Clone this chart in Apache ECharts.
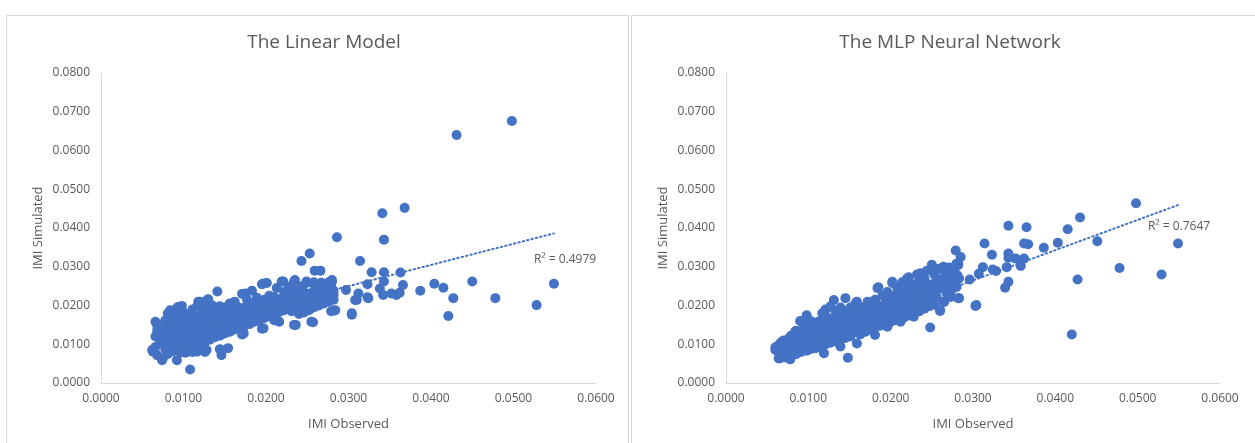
<!DOCTYPE html>
<html>
<head>
<meta charset="utf-8">
<title>IMI Observed vs Simulated</title>
<script type="text/javascript" src="https://cdn.jsdelivr.net/npm/echarts/dist/echarts.min.js"></script>
<style>
  html, body { margin: 0; padding: 0; background: #fff; }
  #chart { width: 1255px; height: 443px; }
</style>
</head>
<body>
<div id="chart"></div>
<script type="text/javascript">
// titles / axis names
var chartTitles = ['The Linear Model', 'The MLP Neural Network'];
var xName = 'IMI Observed';
var yName = 'IMI Simulated';
var r2Labels = ['R\u00b2 = 0.4979', 'R\u00b2 = 0.7647'];

// trendlines (intercept, slope)
var linearTrend = [0.00861, 0.5464];
var mlpTrend = [0.00304, 0.781];

// [observed, simulated] - linear model
var linearPoints = [
  // outliers / sparse part
  [0.0498,0.0676],[0.0431,0.0640],[0.0368,0.0452],[0.0341,0.0438],[0.0343,0.0370],[0.0286,0.0376],
  [0.0253,0.0334],[0.0243,0.0315],[0.0314,0.0315],[0.0259,0.0290],[0.0266,0.0290],[0.0328,0.0286],
  [0.0343,0.0286],[0.0363,0.0285],[0.0549,0.0256],[0.0450,0.0262],[0.0404,0.0256],[0.0415,0.0246],
  [0.0387,0.0238],[0.0427,0.0219],[0.0478,0.0219],[0.0528,0.0201],[0.0421,0.0173],
  [0.0280,0.0266],[0.0278,0.0257],[0.0249,0.0262],[0.0267,0.0259],[0.0282,0.0227],[0.0297,0.0240],
  [0.0312,0.0231],[0.0308,0.0214],[0.0323,0.0255],[0.0324,0.0219],[0.0338,0.0244],[0.0343,0.0262],
  [0.0342,0.0227],[0.0352,0.0231],[0.0358,0.0227],[0.0362,0.0233],[0.0366,0.0253],[0.0283,0.0187],
  [0.0304,0.0176],[0.0257,0.0157],[0.0310,0.0214],[0.0323,0.0221],
  // cluster edge
  [0.0063,0.0081],[0.0074,0.0059],[0.0092,0.0059],[0.0108,0.0035],[0.0066,0.0158],[0.0070,0.0137],
  [0.0066,0.0120],[0.0084,0.0188],[0.0098,0.0199],[0.0118,0.0210],[0.0130,0.0216],[0.0141,0.0236],
  [0.0146,0.0085],[0.0154,0.0090],[0.0146,0.0072],[0.0128,0.0085],[0.0116,0.0081],[0.0106,0.0081],
  [0.0173,0.0128],[0.0197,0.0141],[0.0175,0.0231],[0.0197,0.0257],[0.0221,0.0262],[0.0235,0.0266],
  [0.0257,0.0257],[0.0280,0.0262],[0.0236,0.0150],[0.0213,0.0163],[0.0284,0.0188],[0.0304,0.0180],
  // cluster body
  [0.0062,0.0085],[0.0066,0.0093],[0.0068,0.0072],[0.0068,0.0135],[0.0068,0.0150],
  [0.0072,0.0110],[0.0072,0.0128],[0.0072,0.0141],[0.0075,0.0064],[0.0075,0.0100],[0.0075,0.0122],
  [0.0075,0.0148],[0.0078,0.0088],[0.0078,0.0115],[0.0078,0.0135],[0.0078,0.0162],
  [0.0081,0.0075],[0.0081,0.0106],[0.0081,0.0128],[0.0081,0.0152],[0.0081,0.0180],
  [0.0084,0.0094],[0.0084,0.0118],[0.0084,0.0140],[0.0087,0.0082],[0.0087,0.0110],[0.0087,0.0131],
  [0.0087,0.0160],[0.0087,0.0175],[0.0090,0.0098],[0.0090,0.0122],[0.0090,0.0146],[0.0090,0.0168],
  [0.0093,0.0088],[0.0093,0.0115],[0.0093,0.0137],[0.0093,0.0155],[0.0093,0.0196],
  [0.0096,0.0079],[0.0096,0.0104],[0.0096,0.0128],[0.0096,0.0150],[0.0096,0.0180],
  [0.0099,0.0095],[0.0099,0.0118],[0.0099,0.0140],[0.0099,0.0162],[0.0099,0.0185],
  [0.0102,0.0078],[0.0102,0.0108],[0.0102,0.0132],[0.0102,0.0155],[0.0102,0.0172],
  [0.0105,0.0085],[0.0105,0.0120],[0.0105,0.0145],[0.0105,0.0165],
  [0.0108,0.0100],[0.0108,0.0127],[0.0108,0.0150],[0.0108,0.0178],
  [0.0111,0.0080],[0.0111,0.0112],[0.0111,0.0138],[0.0111,0.0160],[0.0111,0.0190],
  [0.0114,0.0095],[0.0114,0.0122],[0.0114,0.0148],[0.0114,0.0170],
  [0.0117,0.0082],[0.0117,0.0108],[0.0117,0.0133],[0.0117,0.0158],[0.0117,0.0200],
  [0.0120,0.0098],[0.0120,0.0125],[0.0120,0.0145],[0.0120,0.0175],[0.0120,0.0210],
  [0.0123,0.0088],[0.0123,0.0115],[0.0123,0.0138],[0.0123,0.0162],[0.0123,0.0185],
  [0.0126,0.0080],[0.0126,0.0105],[0.0126,0.0130],[0.0126,0.0152],[0.0126,0.0195],
  [0.0129,0.0120],[0.0129,0.0144],[0.0129,0.0168],[0.0129,0.0215],
  [0.0132,0.0112],[0.0132,0.0136],[0.0132,0.0158],[0.0132,0.0182],
  [0.0135,0.0125],[0.0135,0.0148],[0.0135,0.0172],[0.0135,0.0200],
  [0.0138,0.0118],[0.0138,0.0140],[0.0138,0.0162],[0.0138,0.0190],
  [0.0141,0.0130],[0.0141,0.0152],[0.0141,0.0178],
  [0.0144,0.0087],[0.0144,0.0122],[0.0144,0.0145],[0.0144,0.0168],[0.0144,0.0198],
  [0.0147,0.0136],[0.0147,0.0158],[0.0147,0.0185],
  [0.0150,0.0128],[0.0150,0.0150],[0.0150,0.0172],[0.0150,0.0195],
  [0.0153,0.0140],[0.0153,0.0162],[0.0153,0.0188],
  [0.0156,0.0132],[0.0156,0.0155],[0.0156,0.0178],[0.0156,0.0205],
  [0.0159,0.0145],[0.0159,0.0168],[0.0159,0.0192],
  [0.0162,0.0138],[0.0162,0.0160],[0.0162,0.0182],[0.0162,0.0210],
  [0.0165,0.0150],[0.0165,0.0172],[0.0165,0.0198],
  [0.0168,0.0142],[0.0168,0.0165],[0.0168,0.0188],
  [0.0171,0.0125],[0.0171,0.0155],[0.0171,0.0178],[0.0171,0.0230],
  [0.0174,0.0148],[0.0174,0.0170],[0.0174,0.0195],
  [0.0177,0.0160],[0.0177,0.0183],[0.0177,0.0215],
  [0.0180,0.0152],[0.0180,0.0175],[0.0180,0.0200],
  [0.0183,0.0165],[0.0183,0.0188],[0.0183,0.0238],
  [0.0186,0.0158],[0.0186,0.0180],[0.0186,0.0205],
  [0.0189,0.0170],[0.0189,0.0192],[0.0189,0.0220],
  [0.0192,0.0162],[0.0192,0.0185],[0.0192,0.0210],
  [0.0195,0.0140],[0.0195,0.0176],[0.0195,0.0198],[0.0195,0.0255],
  [0.0198,0.0168],[0.0198,0.0190],[0.0198,0.0215],
  [0.0201,0.0180],[0.0201,0.0202],[0.0201,0.0258],
  [0.0204,0.0172],[0.0204,0.0195],[0.0204,0.0225],
  [0.0207,0.0185],[0.0207,0.0208],
  [0.0210,0.0162],[0.0210,0.0178],[0.0210,0.0200],[0.0210,0.0222],
  [0.0213,0.0190],[0.0213,0.0212],[0.0213,0.0245],
  [0.0216,0.0158],[0.0216,0.0183],[0.0216,0.0205],
  [0.0219,0.0195],[0.0219,0.0218],[0.0219,0.0262],
  [0.0222,0.0188],[0.0222,0.0210],[0.0222,0.0235],
  [0.0225,0.0200],[0.0225,0.0222],
  [0.0228,0.0192],[0.0228,0.0215],[0.0228,0.0248],
  [0.0231,0.0185],[0.0231,0.0205],[0.0231,0.0228],
  [0.0234,0.0150],[0.0234,0.0198],[0.0234,0.0220],[0.0234,0.0262],
  [0.0237,0.0190],[0.0237,0.0212],[0.0237,0.0238],
  [0.0240,0.0178],[0.0240,0.0205],[0.0240,0.0228],
  [0.0243,0.0195],[0.0243,0.0218],[0.0243,0.0250],
  [0.0246,0.0182],[0.0246,0.0210],[0.0246,0.0235],
  [0.0249,0.0200],[0.0249,0.0225],[0.0249,0.0258],
  [0.0252,0.0188],[0.0252,0.0215],
  [0.0255,0.0158],[0.0255,0.0205],[0.0255,0.0232],
  [0.0258,0.0195],[0.0258,0.0222],[0.0258,0.0260],
  [0.0261,0.0210],[0.0261,0.0238],[0.0264,0.0200],[0.0264,0.0228],
  [0.0267,0.0218],[0.0267,0.0245],[0.0270,0.0205],[0.0270,0.0232],
  [0.0273,0.0222],[0.0273,0.0252],[0.0276,0.0210],[0.0276,0.0260],
  [0.0279,0.0185],[0.0279,0.0225],[0.0279,0.0248],[0.0282,0.0215],[0.0282,0.0238]
];

// [observed, simulated] - MLP neural network
var mlpPoints = [
  // outliers / sparse part
  [0.0498,0.0464],[0.0430,0.0427],[0.0415,0.0397],[0.0343,0.0406],[0.0365,0.0402],[0.0451,0.0366],
  [0.0549,0.0360],[0.0403,0.0362],[0.0386,0.0349],[0.0362,0.0360],[0.0367,0.0358],[0.0314,0.0360],
  [0.0279,0.0342],[0.0285,0.0325],[0.0323,0.0331],[0.0343,0.0334],[0.0343,0.0323],[0.0352,0.0321],
  [0.0362,0.0321],[0.0358,0.0302],[0.0341,0.0299],[0.0282,0.0304],[0.0312,0.0299],[0.0324,0.0293],
  [0.0328,0.0289],[0.0307,0.0282],[0.0296,0.0267],[0.0281,0.0278],[0.0343,0.0261],[0.0339,0.0246],
  [0.0427,0.0267],[0.0478,0.0297],[0.0529,0.0280],[0.0420,0.0125],[0.0303,0.0199],[0.0283,0.0219],
  [0.0273,0.0222],[0.0265,0.0209],[0.0260,0.0186],[0.0248,0.0143],[0.0148,0.0065],
  // cluster edge
  [0.0060,0.0092],[0.0066,0.0064],[0.0078,0.0061],[0.0070,0.0107],[0.0084,0.0132],[0.0090,0.0160],
  [0.0098,0.0175],[0.0117,0.0180],[0.0131,0.0214],[0.0145,0.0219],[0.0159,0.0210],[0.0185,0.0247],
  [0.0202,0.0261],[0.0222,0.0273],[0.0236,0.0283],[0.0250,0.0305],[0.0264,0.0300],[0.0282,0.0309],
  [0.0119,0.0077],[0.0098,0.0083],[0.0139,0.0094],[0.0159,0.0102],[0.0181,0.0124],[0.0196,0.0145],
  [0.0212,0.0158],[0.0228,0.0171],[0.0260,0.0188],[0.0264,0.0210],[0.0282,0.0219],[0.0304,0.0201],
  // cluster body
  [0.0060,0.0085],[0.0064,0.0063],[0.0064,0.0078],[0.0064,0.0098],[0.0067,0.0070],[0.0067,0.0088],
  [0.0067,0.0105],[0.0070,0.0082],[0.0070,0.0095],[0.0070,0.0110],[0.0073,0.0066],[0.0073,0.0090],
  [0.0073,0.0102],[0.0076,0.0078],[0.0076,0.0096],[0.0076,0.0115],[0.0079,0.0070],[0.0079,0.0088],
  [0.0079,0.0106],[0.0079,0.0122],[0.0082,0.0082],[0.0082,0.0098],[0.0082,0.0112],
  [0.0085,0.0074],[0.0085,0.0092],[0.0085,0.0108],[0.0085,0.0135],
  [0.0088,0.0086],[0.0088,0.0102],[0.0088,0.0118],[0.0091,0.0080],[0.0091,0.0096],[0.0091,0.0112],
  [0.0091,0.0128],[0.0094,0.0090],[0.0094,0.0106],[0.0094,0.0122],[0.0094,0.0150],
  [0.0097,0.0100],[0.0097,0.0116],[0.0097,0.0135],[0.0100,0.0094],[0.0100,0.0110],[0.0100,0.0126],
  [0.0100,0.0145],[0.0103,0.0088],[0.0103,0.0104],[0.0103,0.0120],[0.0103,0.0138],[0.0103,0.0160],
  [0.0106,0.0098],[0.0106,0.0114],[0.0106,0.0130],[0.0106,0.0150],
  [0.0109,0.0090],[0.0109,0.0108],[0.0109,0.0124],[0.0109,0.0142],
  [0.0112,0.0102],[0.0112,0.0118],[0.0112,0.0135],[0.0112,0.0158],
  [0.0115,0.0095],[0.0115,0.0112],[0.0115,0.0128],[0.0115,0.0146],
  [0.0118,0.0106],[0.0118,0.0122],[0.0118,0.0140],[0.0118,0.0175],
  [0.0121,0.0100],[0.0121,0.0116],[0.0121,0.0133],[0.0121,0.0152],[0.0121,0.0190],
  [0.0124,0.0110],[0.0124,0.0126],[0.0124,0.0145],[0.0124,0.0168],
  [0.0127,0.0104],[0.0127,0.0120],[0.0127,0.0138],[0.0127,0.0160],[0.0127,0.0198],
  [0.0130,0.0114],[0.0130,0.0130],[0.0130,0.0150],
  [0.0133,0.0108],[0.0133,0.0125],[0.0133,0.0142],[0.0133,0.0165],[0.0133,0.0185],
  [0.0136,0.0118],[0.0136,0.0135],[0.0136,0.0155],[0.0136,0.0175],
  [0.0139,0.0112],[0.0139,0.0128],[0.0139,0.0148],[0.0139,0.0195],
  [0.0142,0.0122],[0.0142,0.0140],[0.0142,0.0162],[0.0142,0.0185],
  [0.0145,0.0116],[0.0145,0.0133],[0.0145,0.0152],
  [0.0148,0.0126],[0.0148,0.0145],[0.0148,0.0170],
  [0.0151,0.0120],[0.0151,0.0138],[0.0151,0.0160],[0.0151,0.0195],
  [0.0154,0.0130],[0.0154,0.0150],[0.0154,0.0178],
  [0.0157,0.0142],[0.0157,0.0165],[0.0157,0.0205],
  [0.0160,0.0135],[0.0160,0.0155],[0.0160,0.0188],
  [0.0163,0.0125],[0.0163,0.0146],[0.0163,0.0172],
  [0.0166,0.0140],[0.0166,0.0162],[0.0166,0.0195],
  [0.0169,0.0132],[0.0169,0.0152],[0.0169,0.0180],
  [0.0172,0.0145],[0.0172,0.0168],[0.0172,0.0210],
  [0.0175,0.0138],[0.0175,0.0160],[0.0175,0.0190],
  [0.0178,0.0150],[0.0178,0.0175],[0.0178,0.0200],
  [0.0181,0.0144],[0.0181,0.0166],[0.0181,0.0215],
  [0.0184,0.0155],[0.0184,0.0182],[0.0184,0.0245],
  [0.0187,0.0148],[0.0187,0.0172],[0.0187,0.0198],
  [0.0190,0.0160],[0.0190,0.0185],[0.0190,0.0225],
  [0.0193,0.0175],[0.0193,0.0205],
  [0.0196,0.0165],[0.0196,0.0190],[0.0196,0.0235],
  [0.0199,0.0156],[0.0199,0.0180],[0.0199,0.0215],
  [0.0202,0.0170],[0.0202,0.0198],[0.0202,0.0258],
  [0.0205,0.0162],[0.0205,0.0188],[0.0205,0.0225],
  [0.0208,0.0176],[0.0208,0.0205],[0.0208,0.0245],
  [0.0211,0.0195],[0.0211,0.0230],
  [0.0214,0.0182],[0.0214,0.0212],[0.0214,0.0260],
  [0.0217,0.0170],[0.0217,0.0200],[0.0217,0.0238],
  [0.0220,0.0188],[0.0220,0.0218],[0.0220,0.0270],
  [0.0223,0.0175],[0.0223,0.0205],[0.0223,0.0248],
  [0.0226,0.0195],[0.0226,0.0225],
  [0.0229,0.0212],[0.0229,0.0255],
  [0.0232,0.0200],[0.0232,0.0232],[0.0232,0.0280],
  [0.0235,0.0185],[0.0235,0.0218],[0.0235,0.0262],
  [0.0238,0.0205],[0.0238,0.0240],
  [0.0241,0.0192],[0.0241,0.0225],[0.0241,0.0270],
  [0.0244,0.0210],[0.0244,0.0248],[0.0244,0.0290],
  [0.0247,0.0198],[0.0247,0.0232],
  [0.0250,0.0215],[0.0250,0.0255],[0.0250,0.0302],
  [0.0253,0.0202],[0.0253,0.0238],[0.0253,0.0280],
  [0.0256,0.0222],[0.0256,0.0262],
  [0.0259,0.0245],[0.0259,0.0295],
  [0.0262,0.0268],[0.0265,0.0250],[0.0265,0.0288],
  [0.0268,0.0232],[0.0268,0.0275],[0.0271,0.0258],[0.0271,0.0298],
  [0.0274,0.0240],[0.0274,0.0280],[0.0277,0.0265],[0.0277,0.0292],
  [0.0280,0.0248],[0.0280,0.0278],[0.0280,0.0308],[0.0283,0.0270]
];

var chartDom = document.getElementById('chart');
var myChart = echarts.init(chartDom, null, { renderer: 'canvas' });

var FONT = '"Open Sans", "Liberation Sans", sans-serif';
var TXT = '#595959';
var BLUE = '#4472C4';

// trendline from smallest to largest observed value
function trendData(points, coef) {
  var xs = points.map(function (p) { return p[0]; });
  var lo = Math.min.apply(null, xs), hi = Math.max.apply(null, xs);
  return [[lo, coef[0] + coef[1] * lo], [hi, coef[0] + coef[1] * hi]];
}

function xAxisFor(i) {
  return {
    gridIndex: i, type: 'value', min: 0, max: 0.06, interval: 0.01,
    name: xName, nameLocation: 'middle', nameGap: 35,
    nameTextStyle: { color: TXT, fontSize: 13, fontFamily: FONT },
    axisLine: { show: true, lineStyle: { color: '#d9d9d9', width: 1 } },
    axisTick: { show: false },
    splitLine: { show: false },
    axisLabel: { color: TXT, fontSize: 12, fontFamily: FONT, margin: 10,
      formatter: function (v) { return v.toFixed(4); } }
  };
}

function yAxisFor(i) {
  return {
    gridIndex: i, type: 'value', min: 0, max: 0.08, interval: 0.01,
    name: yName, nameLocation: 'middle', nameGap: 56, nameRotate: 90,
    nameTextStyle: { color: TXT, fontSize: 13, fontFamily: FONT },
    axisLine: { show: true, lineStyle: { color: '#d9d9d9', width: 1 } },
    axisTick: { show: false },
    splitLine: { show: false },
    axisLabel: { color: TXT, fontSize: 12, fontFamily: FONT, margin: 11,
      formatter: function (v) { return v.toFixed(4); } }
  };
}

var option = {
  backgroundColor: '#ffffff',
  animation: false,
  title: [
    { text: chartTitles[0], left: 319, top: 28, textAlign: 'center',
      textStyle: { color: TXT, fontSize: 19, fontWeight: 'normal', fontFamily: FONT } },
    { text: chartTitles[1], left: 945, top: 28, textAlign: 'center',
      textStyle: { color: TXT, fontSize: 19, fontWeight: 'normal', fontFamily: FONT } }
  ],
  grid: [
    { left: 101, top: 73, width: 495, height: 310 },
    { left: 726, top: 73, width: 494, height: 310 }
  ],
  xAxis: [xAxisFor(0), xAxisFor(1)],
  yAxis: [yAxisFor(0), yAxisFor(1)],
  graphic: [
    { type: 'rect', z: -1, shape: { x: 6.5, y: 15.5, width: 622, height: 440 },
      style: { fill: 'none', stroke: '#d9d9d9', lineWidth: 1 } },
    { type: 'rect', z: -1, shape: { x: 631.5, y: 15.5, width: 630, height: 440 },
      style: { fill: 'none', stroke: '#d9d9d9', lineWidth: 1 } },
    { type: 'text', left: 534, top: 254,
      style: { text: r2Labels[0], fill: TXT, font: '12px ' + FONT } },
    { type: 'text', left: 1148, top: 221,
      style: { text: r2Labels[1], fill: TXT, font: '12px ' + FONT } }
  ],
  series: [
    { type: 'scatter', xAxisIndex: 0, yAxisIndex: 0, data: linearPoints,
      symbolSize: 10, itemStyle: { color: BLUE, opacity: 1 } },
    { type: 'line', xAxisIndex: 0, yAxisIndex: 0, data: trendData(linearPoints, linearTrend),
      symbol: 'none', z: 5,
      lineStyle: { color: BLUE, width: 2, type: [1.5, 3], cap: 'round' } },
    { type: 'scatter', xAxisIndex: 1, yAxisIndex: 1, data: mlpPoints,
      symbolSize: 10, itemStyle: { color: BLUE, opacity: 1 } },
    { type: 'line', xAxisIndex: 1, yAxisIndex: 1, data: trendData(mlpPoints, mlpTrend),
      symbol: 'none', z: 5,
      lineStyle: { color: BLUE, width: 2, type: [1.5, 3], cap: 'round' } }
  ]
};

myChart.setOption(option);
</script>
</body>
</html>
